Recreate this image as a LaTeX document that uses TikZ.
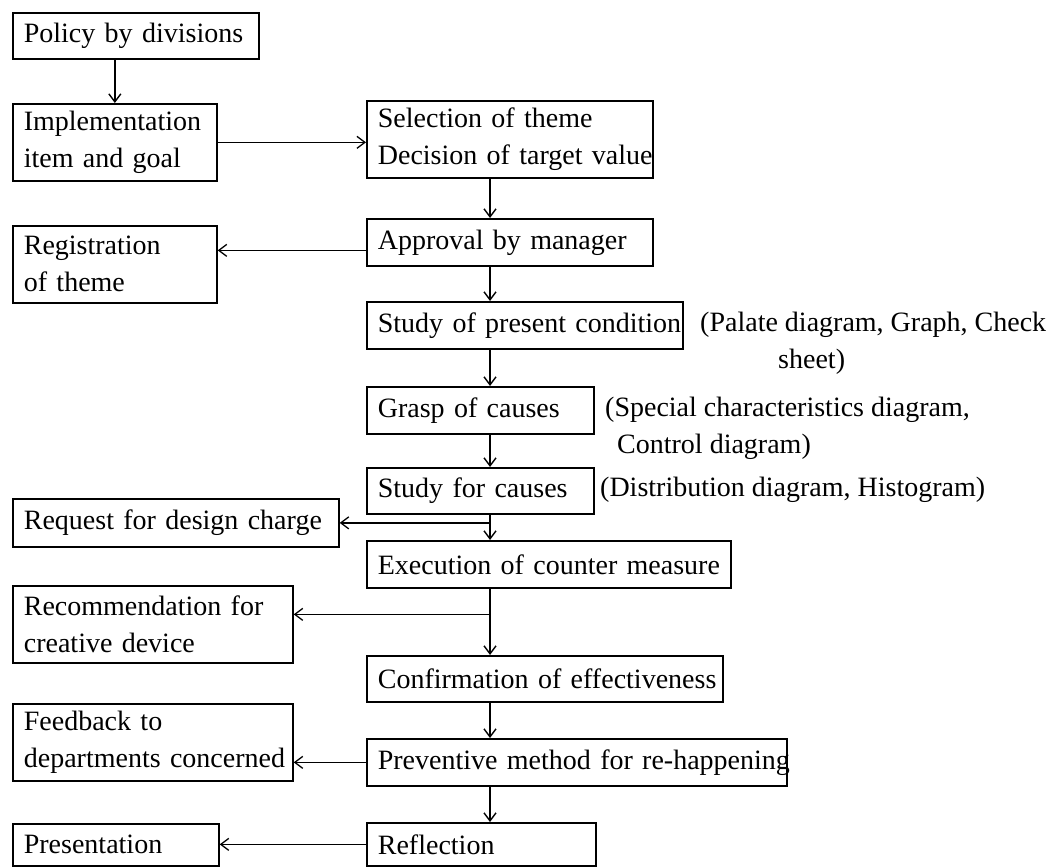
\documentclass[tikz,border=0pt]{standalone}
\usepackage{fontspec}
\setmainfont{Liberation Serif}
\usetikzlibrary{arrows.meta}
\begin{document}
\begin{tikzpicture}[x=1pt,y=-1pt,
  box/.style={draw, line width=1.7pt, anchor=north west, inner xsep=11pt,
    inner ysep=0pt, align=left, font=\fontsize{28pt}{37pt}\selectfont},
  note/.style={anchor=base west, inner sep=0pt, font=\fontsize{28pt}{37pt}\selectfont},
  flow/.style={line width=1.8pt, -{Straight Barb[length=8pt,width=12pt,line width=1.4pt]}},
  side/.style={line width=1.3pt, -{Straight Barb[length=8pt,width=12pt,line width=1.3pt]}}]
\useasboundingbox[fill=white] (0,0) rectangle (1054,867);

% main flow column
\node[box, text width=264pt, minimum height=77pt] (sel)   at (366,100) {\mbox{Selection of theme}\\\mbox{Decision of target value}};
\node[box, text width=264pt, minimum height=47pt] (appr)  at (366,218) {\mbox{Approval by manager}};
\node[box, text width=294pt, minimum height=47pt] (pres)  at (366,301) {\mbox{Study of present condition}};
\node[box, text width=205pt, minimum height=47pt] (grasp) at (366,386) {\mbox{Grasp of causes}};
\node[box, text width=205pt, minimum height=46pt] (stud)  at (366,467) {\mbox{Study for causes}};
\node[box, text width=342pt, minimum height=47pt] (exe)   at (366,540) {\mbox{Execution of counter measure}};
\node[box, text width=334pt, minimum height=46pt] (conf)  at (366,655) {\mbox{Confirmation of effectiveness}};
\node[box, text width=398pt, minimum height=47pt] (prev)  at (366,738) {\mbox{Preventive method for re-happening}};
\node[box, text width=207pt, minimum height=43pt] (refl)  at (366,822) {\mbox{Reflection}};

% side boxes
\node[box, text width=224pt, minimum height=46pt] (pol)   at (12,12)  {\mbox{Policy by divisions}};
\node[box, text width=182pt, minimum height=77pt] (impl)  at (12,103) {\mbox{Implementation}\\\mbox{item and goal}};
\node[box, text width=182pt, minimum height=77pt] (reg)   at (12,225) {\mbox{Registration}\\\mbox{of theme}};
\node[box, text width=304pt, minimum height=48pt] (req)   at (12,498) {\mbox{Request for design charge}};
\node[box, text width=258pt, minimum height=77pt] (rec)   at (12,585) {\mbox{Recommendation for}\\\mbox{creative device}};
\node[box, text width=258pt, minimum height=77pt] (feed)  at (12,703) {\mbox{Feedback to}\\\mbox{departments concerned}};
\node[box, text width=184pt, minimum height=42pt] (presn) at (12,823) {\mbox{Presentation}};

% tools noted beside the study steps
\node[note] (n1)  at (700,331) {(Palate diagram, Graph, Check};
\node[note] (n1b) at (778,368) {sheet)};
\node[note] (n2)  at (605,416) {(Special characteristics diagram,};
\node[note] (n2b) at (617,453) {Control diagram)};
\node[note] (n3)  at (600,496) {(Distribution diagram, Histogram)};

% vertical line of the main flow
\coordinate (spine) at (490,0);

% connectors
\draw[flow] (pol.south -| impl.north) -- (impl.north);
\draw[side] (impl.east) -- (impl.east -| sel.west);
\draw[flow] (sel.south -| spine) -- (appr.north -| spine);
\draw[side] ([yshift=-8pt]appr.west) -- ([yshift=-8pt]appr.west -| reg.east);
\draw[flow] (appr.south -| spine) -- (pres.north -| spine);
\draw[flow] (pres.south -| spine) -- (grasp.north -| spine);
\draw[flow] (grasp.south -| spine) -- (stud.north -| spine);
\draw[flow] (stud.south -| spine) -- (exe.north -| spine);
\draw[side] (req.east -| spine) -- (req.east);
\draw[flow] (exe.south -| spine) -- (conf.north -| spine);
\draw[side] ([yshift=10pt]rec.east -| spine) -- ([yshift=10pt]rec.east);
\draw[flow] (conf.south -| spine) -- (prev.north -| spine);
\draw[side] (prev.west) -- (prev.west -| feed.east);
\draw[flow] (prev.south -| spine) -- (refl.north -| spine);
\draw[side] (refl.west) -- (refl.west -| presn.east);
\end{tikzpicture}
\end{document}
